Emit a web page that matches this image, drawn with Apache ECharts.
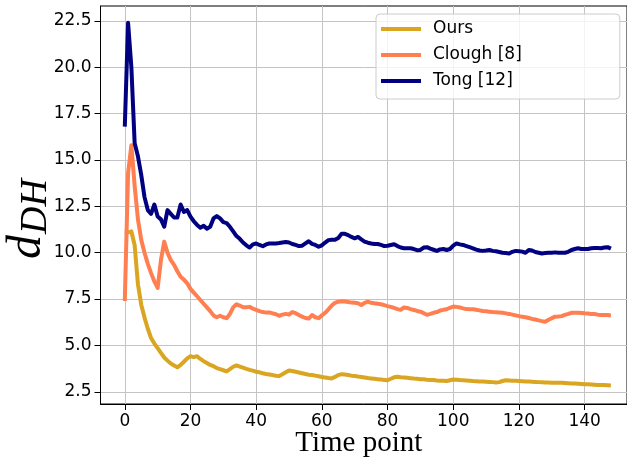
<!DOCTYPE html>
<html>
<head>
<meta charset="utf-8">
<script src="https://cdn.jsdelivr.net/npm/echarts@6/dist/echarts.min.js"></script>
<style>
html,body{margin:0;padding:0;background:#fff;}
#chart{width:627px;height:458px;}
</style>
</head>
<body>
<div id="chart"></div>
<script>
// ---- data ----
var seriesNames = ['Ours', 'Clough [8]', 'Tong [12]'];
var xTicks = [0, 20, 40, 60, 80, 100, 120, 140];
var yTicks = [2.5, 5.0, 7.5, 10.0, 12.5, 15.0, 17.5, 20.0, 22.5];

var ours = [
11.1,11.1,11.15,10.4,8.3,7.2,6.5,5.9,5.4,5.1,
4.85,4.6,4.35,4.18,4.02,3.92,3.82,3.95,4.12,4.3,
4.42,4.37,4.42,4.27,4.15,4.05,3.95,3.88,3.78,3.72,
3.66,3.6,3.72,3.85,3.92,3.86,3.8,3.74,3.68,3.64,
3.58,3.55,3.5,3.46,3.43,3.4,3.36,3.35,3.45,3.55,
3.65,3.62,3.58,3.54,3.5,3.46,3.42,3.4,3.37,3.34,
3.3,3.27,3.24,3.22,3.3,3.4,3.45,3.43,3.4,3.37,
3.35,3.32,3.3,3.27,3.24,3.22,3.2,3.18,3.16,3.14,
3.12,3.2,3.28,3.31,3.28,3.27,3.25,3.23,3.21,3.2,
3.18,3.17,3.15,3.14,3.13,3.11,3.1,3.09,3.08,3.12,
3.16,3.15,3.13,3.12,3.11,3.1,3.08,3.07,3.06,3.05,
3.04,3.03,3.02,3.0,3.02,3.08,3.12,3.11,3.1,3.09,
3.08,3.07,3.06,3.05,3.04,3.03,3.02,3.01,3.0,3.0,
2.99,2.99,2.98,2.98,2.97,2.96,2.95,2.94,2.93,2.92,
2.91,2.9,2.89,2.88,2.87,2.86,2.86,2.85,2.84
];

var clough = [
7.4,14.3,15.8,13.6,11.8,10.7,10.0,9.4,8.9,8.45,
8.1,9.6,10.6,10.0,9.6,9.35,9.0,8.7,8.55,8.35,
8.05,7.85,7.65,7.45,7.25,7.05,6.85,6.62,6.52,6.6,
6.52,6.47,6.7,7.05,7.22,7.15,7.06,7.06,7.08,6.98,
6.92,6.85,6.8,6.77,6.78,6.73,6.68,6.6,6.66,6.7,
6.66,6.8,6.74,6.64,6.55,6.48,6.45,6.64,6.52,6.47,
6.62,6.76,6.95,7.15,7.3,7.36,7.38,7.37,7.34,7.31,
7.3,7.27,7.18,7.3,7.36,7.3,7.27,7.25,7.22,7.17,
7.12,7.08,7.02,6.96,6.92,7.05,7.02,6.96,6.91,6.86,
6.82,6.74,6.65,6.7,6.76,6.8,6.88,6.92,6.95,7.03,
7.1,7.08,7.05,7.0,6.96,6.95,6.95,6.92,6.89,6.86,
6.84,6.82,6.8,6.79,6.78,6.76,6.73,6.7,6.66,6.62,
6.58,6.55,6.52,6.48,6.43,6.4,6.35,6.31,6.28,6.38,
6.47,6.55,6.56,6.58,6.65,6.7,6.76,6.76,6.76,6.75,
6.73,6.72,6.7,6.69,6.66,6.64,6.64,6.64,6.62
];

var tong = [
16.8,22.4,20.0,15.9,15.2,14.2,13.0,12.3,12.1,12.6,
11.95,11.8,11.4,12.3,12.1,11.9,11.9,12.6,12.2,12.3,
11.95,11.7,11.5,11.35,11.45,11.3,11.4,11.85,11.98,11.85,
11.65,11.6,11.4,11.15,10.9,10.75,10.55,10.4,10.28,10.45,
10.5,10.42,10.35,10.45,10.5,10.5,10.5,10.52,10.55,10.58,
10.55,10.47,10.42,10.36,10.38,10.5,10.62,10.48,10.42,10.32,
10.4,10.55,10.68,10.7,10.7,10.8,11.02,11.02,10.95,10.85,
10.78,10.85,10.72,10.6,10.54,10.5,10.47,10.47,10.42,10.36,
10.38,10.42,10.46,10.36,10.28,10.24,10.24,10.24,10.2,10.14,
10.15,10.28,10.3,10.22,10.16,10.1,10.18,10.2,10.15,10.2,
10.38,10.5,10.45,10.42,10.36,10.3,10.24,10.17,10.12,10.1,
10.12,10.15,10.1,10.08,10.04,10.0,9.98,9.96,10.05,10.1,
10.08,10.06,10.0,10.15,10.12,10.04,10.0,9.96,9.98,10.0,
10.0,10.02,10.0,10.0,10.0,10.05,10.15,10.2,10.24,10.2,
10.2,10.2,10.24,10.26,10.25,10.24,10.28,10.3,10.22
];

var colors = ['#DAA520', '#FF7F50', '#000080'];

function pairs(arr) {
  var out = [];
  for (var i = 0; i < arr.length; i++) out.push([i, arr[i]]);
  return out;
}

var chart = echarts.init(document.getElementById('chart'), null, {renderer: 'canvas'});
var tickFont = {fontFamily: 'DejaVu Sans', fontSize: 17, color: '#000'};

var option = {
  animation: false,
  backgroundColor: '#fff',
  grid: {
    left: 100.5, top: 6, right: 0, bottom: 54,
    outerBoundsMode: 'none',
    containLabel: false,
    show: true, borderColor: '#000', borderWidth: 1, backgroundColor: 'transparent'
  },
  legend: {
    orient: 'vertical',
    left: 376, top: 14,
    icon: 'rect',
    itemWidth: 40, itemHeight: 4, itemGap: 6,
    padding: [5, 98, 8, 5],
    backgroundColor: 'rgba(255,255,255,0.8)',
    borderColor: '#cccccc', borderWidth: 1, borderRadius: 4,
    textStyle: {fontFamily: 'DejaVu Sans', fontSize: 17, color: '#000', lineHeight: 20, padding: [0, 0, 0, 7]},
    data: seriesNames
  },
  xAxis: {
    type: 'value',
    min: -7.4, max: 152.9,
    name: 'Time point',
    nameLocation: 'middle',
    nameGap: 25,
    nameMoveOverlap: false,
    nameTextStyle: {fontFamily: 'Liberation Serif', fontSize: 29, color: '#000', padding: [0, 10, 0, 0]},
    axisLine: {show: true, onZero: false, lineStyle: {color: '#000', width: 1}},
    axisTick: {show: true, length: 6, lineStyle: {color: '#000'}, customValues: xTicks},
    axisLabel: Object.assign({margin: 9, customValues: xTicks, formatter: function (v) { return String(v); }}, tickFont),
    splitLine: {show: true, lineStyle: {color: '#c4c4c4', width: 1}}
  },
  yAxis: {
    type: 'value',
    min: 1.84, max: 23.31,
    axisLine: {show: true, onZero: false, lineStyle: {color: '#000', width: 1}},
    axisTick: {show: true, length: 6, lineStyle: {color: '#000'}, customValues: yTicks},
    axisLabel: Object.assign({margin: 9, customValues: yTicks, formatter: function (v) { return v.toFixed(1); }}, tickFont),
    splitLine: {show: true, lineStyle: {color: '#c4c4c4', width: 1}}
  },
  graphic: [
    {type: 'text', x: 27, y: 259, rotation: Math.PI / 2, z: 100,
     style: {text: 'd', font: 'italic 48px "Liberation Serif"', fill: '#000', align: 'left', verticalAlign: 'middle'}},
    {type: 'text', x: 36, y: 234, rotation: Math.PI / 2, z: 100,
     style: {text: 'DH', font: 'italic 38px "Liberation Serif"', fill: '#000', align: 'left', verticalAlign: 'middle'}}
  ],
  series: [
    {name: seriesNames[0], type: 'line', data: pairs(ours), showSymbol: false, color: colors[0],
     lineStyle: {width: 4, color: colors[0], join: 'round'}},
    {name: seriesNames[1], type: 'line', data: pairs(clough), showSymbol: false, color: colors[1],
     lineStyle: {width: 4, color: colors[1], join: 'round'}},
    {name: seriesNames[2], type: 'line', data: pairs(tong), showSymbol: false, color: colors[2],
     lineStyle: {width: 4, color: colors[2], join: 'round'}}
  ]
};
chart.setOption(option);
</script>
</body>
</html>
